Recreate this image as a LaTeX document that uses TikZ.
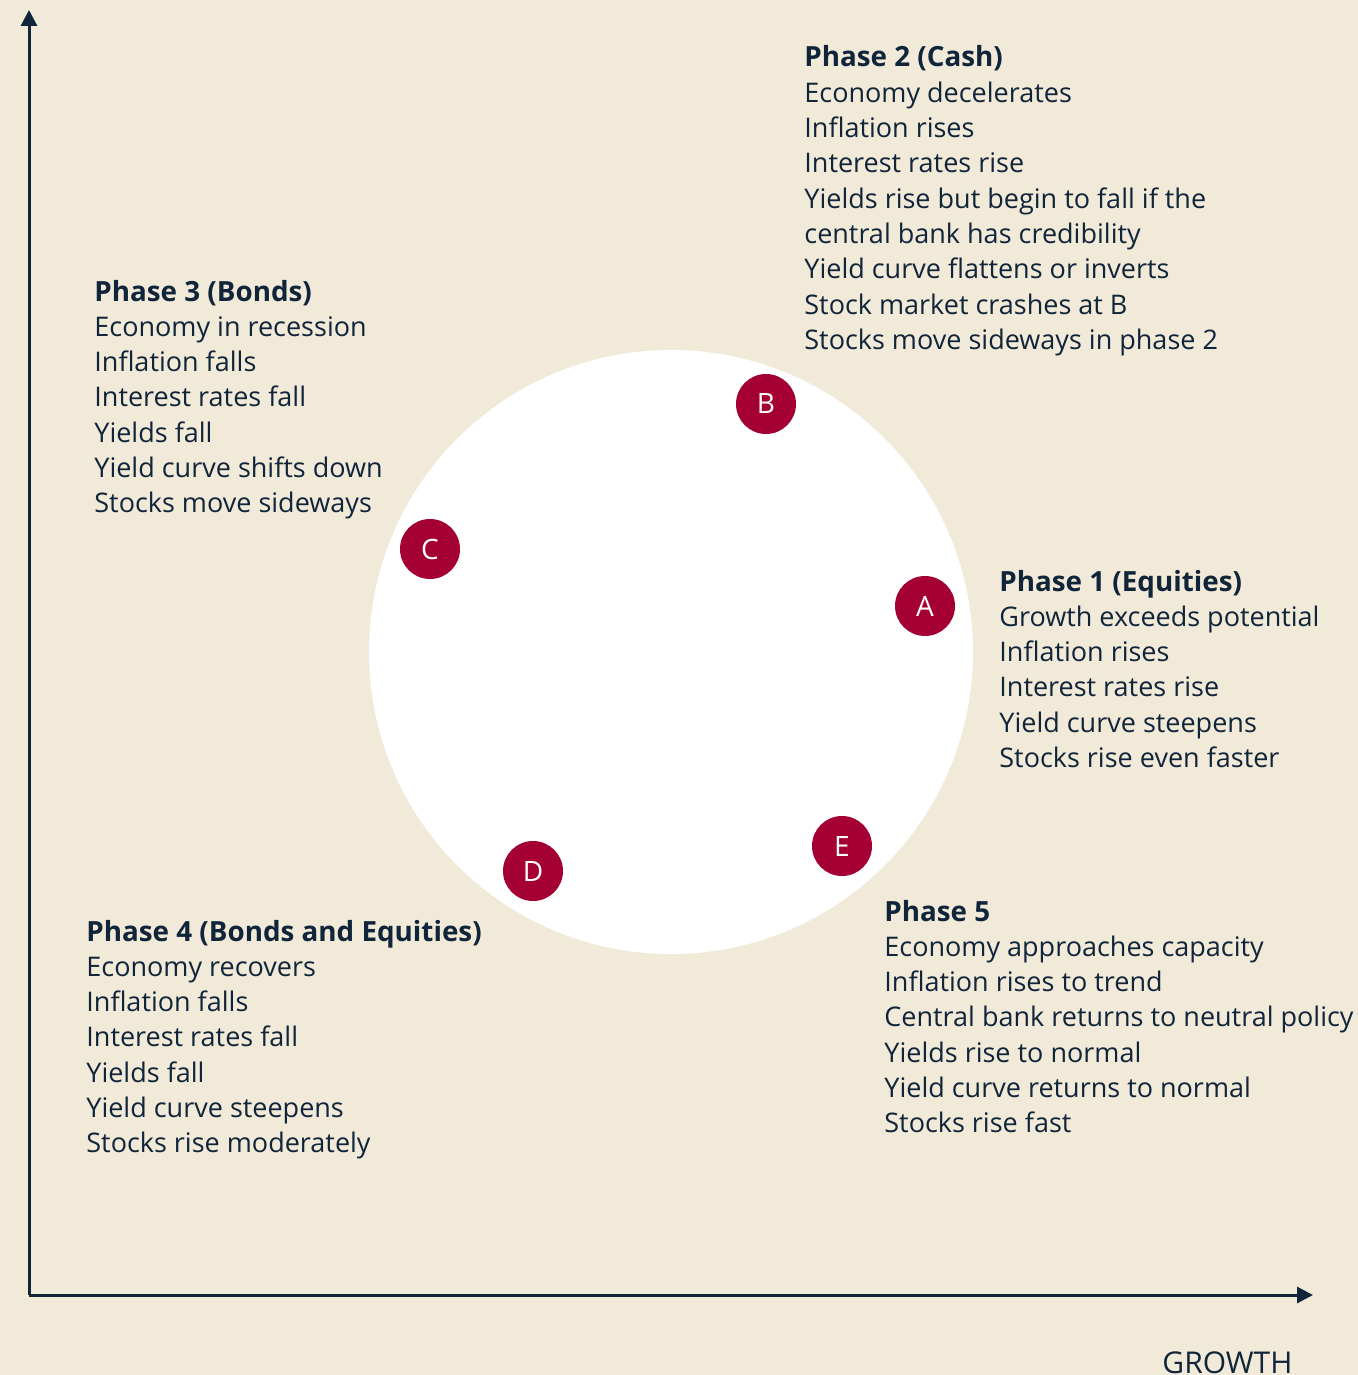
\documentclass[tikz,border=0pt]{standalone}
\usepackage{fontspec}
\setmainfont{Open Sans}
\usetikzlibrary{calc,arrows.meta}
\definecolor{Ink}{HTML}{10243A}
\definecolor{Paper}{HTML}{F2EAD9}
\definecolor{Berry}{HTML}{A50034}
\tikzset{
Title/.style={anchor=base west,font=\fontsize{13.9}{15}\selectfont\bfseries,text=Ink,inner sep=0pt},
Line/.style={anchor=base west,font=\fontsize{13.5}{15}\selectfont,text=Ink,inner sep=0pt},
Dot/.style={circle,fill=Berry,text=white,minimum size=30pt,inner sep=0pt,font=\fontsize{14}{15}\selectfont},
Axis/.style={draw=Ink,line width=1.5pt,-{Triangle[length=8pt,width=8pt]}}
}
\newcommand{\MakePhase}[4]{%
	\node[Title] (#1) at (#2) {#3};%
	\foreach \t [count=\i] in {#4}{%
		\node[Line] (#1@\i) at ($(#1.base west)+(0,\i*35.3)$) {\t};%
	}%
}

\begin{document}
\begin{tikzpicture}[x=0.5pt,y=-0.5pt]
	\fill[Paper] (0,0) rectangle (1358,1375);
	\useasboundingbox (0,0) rectangle (1358,1375);
	
	% axes
	\coordinate (Origin) at (29,1295);
	\coordinate (YTip) at (29,10);
	\coordinate (XTip) at (1313,1295);
	\draw[Axis] (Origin) -- (YTip);
	\draw[Axis] (Origin) -- (XTip);
	\node[Line,font=\fontsize{15}{15}\selectfont] (Growth) at (1162,1373) {GROWTH};
	
	% cycle
	\node[circle,fill=white,minimum size=302pt,inner sep=0pt] (Cycle) at (671,652) {};
	\node[Dot] (A) at (925,606) {A};
	\node[Dot] (B) at (766,404) {B};
	\node[Dot] (C) at (430,549) {C};
	\node[Dot] (D) at (533,871) {D};
	\node[Dot] (E) at (842,846) {E};
	
	% phases
	\MakePhase{Phase1}{999,591}{Phase 1 (Equities)}{Growth exceeds potential,Inflation rises,Interest rates rise,Yield curve steepens,Stocks rise even faster}
	\MakePhase{Phase2}{804,67}{Phase 2 (Cash)}{Economy decelerates,Inflation rises,Interest rates rise,Yields rise but begin to fall if the,central bank has credibility,Yield curve flattens or inverts,Stock market crashes at B,Stocks move sideways in phase 2}
	\MakePhase{Phase3}{94,301}{Phase 3 (Bonds)}{Economy in recession,Inflation falls,Interest rates fall,Yields fall,Yield curve shifts down,Stocks move sideways}
	\MakePhase{Phase4}{86,941}{Phase 4 (Bonds and Equities)}{Economy recovers,Inflation falls,Interest rates fall,Yields fall,Yield curve steepens,Stocks rise moderately}
	\MakePhase{Phase5}{884,921}{Phase 5}{Economy approaches capacity,Inflation rises to trend,Central bank returns to neutral policy,Yields rise to normal,Yield curve returns to normal,Stocks rise fast}
\end{tikzpicture}
\end{document}
